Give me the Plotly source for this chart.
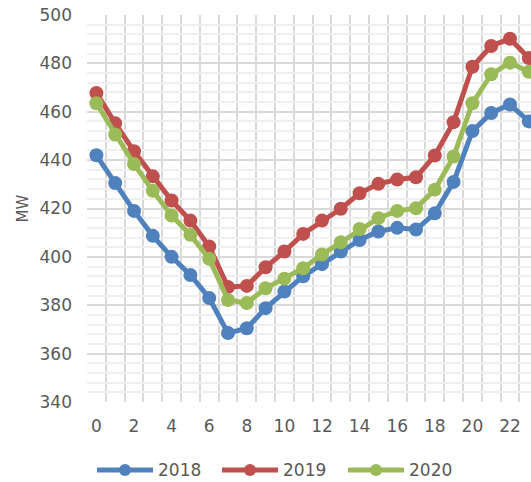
import plotly.graph_objects as go

# Hourly load profile (MW) by hour of day
hours = list(range(24))
load_2018 = [442, 430.5, 419, 408.7, 400, 392.5, 383, 368.5, 370.5, 378.8, 385.7, 392,
             397, 402.2, 407, 410.5, 412, 411.3, 418, 431, 452, 459.5, 463, 456]
load_2019 = [467.8, 455.2, 443.7, 433.3, 423.3, 415, 404.3, 387.5, 388, 395.7, 402.2, 409.5,
             415, 419.9, 426.3, 430.2, 432, 432.9, 441.9, 455.7, 478.6, 487.2, 490.2, 482.2]
load_2020 = [463.5, 450.6, 438.4, 427.3, 417.1, 409.1, 399.2, 382.2, 380.9, 387, 391, 395.3,
             401, 406, 411.5, 416, 419, 420.1, 427.8, 441.5, 463.5, 475.5, 480.3, 476.5]

series_names = ["2018", "2019", "2020"]
series_values = [load_2018, load_2019, load_2020]
series_colors = ["#4f81bd", "#c0504d", "#9bbb59"]

x_tick_vals = list(range(0, 24, 2))
x_tick_text = [str(v) for v in x_tick_vals]

W, H = 531, 482
ML, MR, MT, MB = 87, 0, 15, 80
PLOT_W = W - ML - MR
PLOT_H = H - MT - MB
CAT_PX = 18.8  # pixel width of one hour category

FONT = "DejaVu Sans"
TEXT_COLOR = "#595959"

fig = go.Figure()
for name, vals, color in zip(series_names, series_values, series_colors):
    fig.add_trace(go.Scatter(
        x=hours, y=vals, name=name, mode="lines+markers",
        line=dict(color=color, width=5),
        marker=dict(color=color, size=14, line=dict(width=0)),
        showlegend=False,
    ))


def px_x(px):
    return (px - ML) / PLOT_W


def px_y(py):
    return (H - MB - py) / PLOT_H


# Legend row below the plot: line + dot swatch followed by the label
legend_y = px_y(470)
entry_x0 = [97, 222, 348]
for x0, name, color in zip(entry_x0, series_names, series_colors):
    fig.add_shape(type="line", xref="paper", yref="paper",
                  x0=px_x(x0), x1=px_x(x0 + 56), y0=legend_y, y1=legend_y,
                  line=dict(color=color, width=5))
    fig.add_shape(type="circle", xref="paper", yref="paper",
                  x0=px_x(x0 + 28 - 6), x1=px_x(x0 + 28 + 6),
                  y0=legend_y - 6 / PLOT_H, y1=legend_y + 6 / PLOT_H,
                  fillcolor=color, line=dict(width=0))
    fig.add_annotation(xref="paper", yref="paper", x=px_x(x0 + 59), y=legend_y,
                       text=name, showarrow=False, xanchor="left", yanchor="middle",
                       font=dict(family=FONT, size=17, color=TEXT_COLOR))

fig.update_layout(
    width=W, height=H,
    margin=dict(l=ML, r=MR, t=MT, b=MB, pad=0),
    paper_bgcolor="white", plot_bgcolor="white",
    font=dict(family=FONT, size=17, color=TEXT_COLOR),
    showlegend=False,
    xaxis=dict(
        range=[-0.5, -0.5 + PLOT_W / CAT_PX],
        tickmode="array", tickvals=x_tick_vals, ticktext=x_tick_text,
        showgrid=False, zeroline=False, showline=False, ticks="",
        ticklabelstandoff=12,
        minor=dict(tick0=-0.5, dtick=1, showgrid=True, gridcolor="#d9d9d9", gridwidth=1.5),
        automargin=False,
    ),
    yaxis=dict(
        range=[340, 500], dtick=20,
        showgrid=True, gridcolor="#d9d9d9", gridwidth=1.5,
        zeroline=False, showline=False, ticks="",
        ticklabelstandoff=14,
        minor=dict(dtick=4, showgrid=True, gridcolor="#efefef", gridwidth=1.5),
        title=dict(text="MW", font=dict(family=FONT, size=15, color=TEXT_COLOR), standoff=7),
        automargin=False,
    ),
)

fig.write_html("out.html")
